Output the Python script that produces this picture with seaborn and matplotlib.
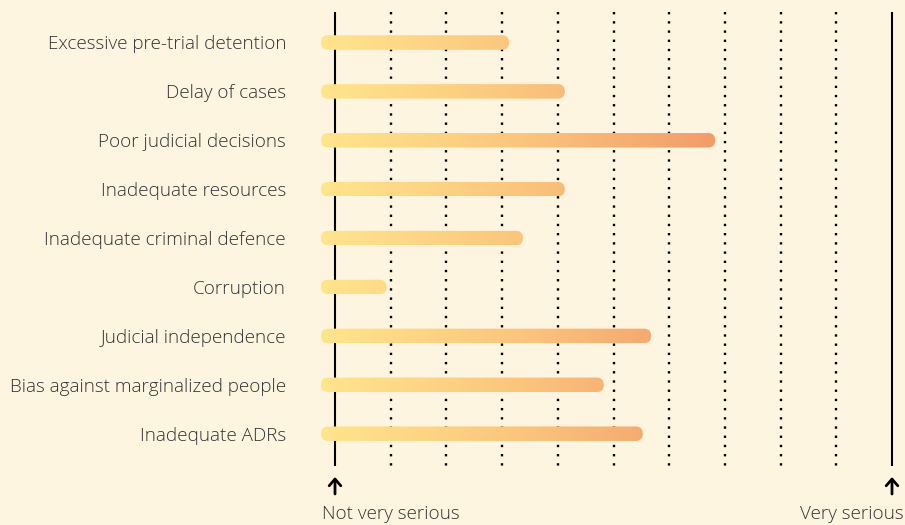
import numpy as np
import matplotlib
matplotlib.use("Agg")
import matplotlib.pyplot as plt
import seaborn as sns
import pandas as pd
from matplotlib.patches import FancyBboxPatch
from matplotlib.colors import LinearSegmentedColormap

# Perceived seriousness of problems in the justice system (0 = not very serious, 10 = very serious)
categories = [
    "Excessive pre-trial detention",
    "Delay of cases",
    "Poor judicial decisions",
    "Inadequate resources",
    "Inadequate criminal defence",
    "Corruption",
    "Judicial independence",
    "Bias against marginalized people",
    "Inadequate ADRs",
]
scores = [3.0, 4.0, 6.7, 4.0, 3.25, 0.8, 5.55, 4.7, 5.4]
scale_ticks = list(range(11))
end_labels = ["Not very serious", "Very serious"]

sns.set_theme(style="white")
plt.rcParams["font.family"] = ["Open Sans", "DejaVu Sans"]

BG = "#FEF5E0"
TEXT = "#333333"
FS = 13.6
W, H = 905, 525
PX_X = 55.7      # pixels per scale unit
PX_Y = 48.9      # pixels per category row
X0_PX, Y0_PX = 335, 42.5
AX_LEFT = 300


def ypos(px):
    return (px - Y0_PX) / PX_Y


fig = plt.figure(figsize=(W / 100, H / 100), dpi=100, facecolor=BG)
ax = fig.add_axes([AX_LEFT / W, 0, (W - AX_LEFT) / W, 1])
ax.set_facecolor(BG)

df = pd.DataFrame({"issue": categories, "score": scores})
bar_h = 14.5 / PX_Y
sns.barplot(data=df, x="score", y="issue", orient="h", width=bar_h,
            color="#FBC57E", ax=ax)

xlim = ((AX_LEFT - X0_PX) / PX_X, (W - X0_PX) / PX_X)
ylim = (ypos(H), ypos(0))

# scale lines: solid at both ends, dotted in between
y_top, y_bot = ypos(12), ypos(466)
for t in scale_ticks:
    if t in (scale_ticks[0], scale_ticks[-1]):
        ax.plot([t, t], [y_top, y_bot], color="black", lw=1.5,
                solid_capstyle="butt", zorder=1)
    else:
        ax.plot([t, t], [y_top, y_bot], color="black", lw=1.7,
                ls=(0, (1, 2.9)), dash_capstyle="butt", zorder=1)

# rounded gradient bars built on the seaborn bar geometry
cmap = LinearSegmentedColormap.from_list("warm", ["#FFE58C", "#FBC57C", "#F29A68"])
grad = np.linspace(0, 1, 256).reshape(1, -1)
cap_r = 7 / PX_X
grad_span = (-0.25, 7.0)
for p in list(ax.patches):
    y0, h, w = p.get_y(), p.get_height(), p.get_width()
    p.set_visible(False)
    shape = FancyBboxPatch((-2 * cap_r, y0), w + 3 * cap_r, h,
                           boxstyle=f"round,pad=0,rounding_size={cap_r}",
                           mutation_aspect=h / (2 * cap_r),
                           facecolor="none", edgecolor="none", zorder=3)
    ax.add_patch(shape)
    im = ax.imshow(grad, extent=(grad_span[0], grad_span[1], y0 + h, y0),
                   cmap=cmap, aspect="auto", interpolation="bilinear", zorder=3)
    im.set_clip_path(shape)

# arrows and end labels
for t in (scale_ticks[0], scale_ticks[-1]):
    ax.annotate("", xy=(t, ypos(477)), xytext=(t, ypos(494)),
                arrowprops=dict(arrowstyle="->,head_width=0.35,head_length=0.4",
                                lw=2, color="black", shrinkA=0, shrinkB=0))
ax.text((322 - X0_PX) / PX_X, ypos(514), end_labels[0], ha="left", va="center",
        fontsize=FS, color=TEXT, fontweight="light")
ax.text((904 - X0_PX) / PX_X, ypos(514), end_labels[1], ha="right", va="center",
        fontsize=FS, color=TEXT, fontweight="light")

ax.set_xlim(*xlim)
ax.set_ylim(*ylim)
ax.set_xticks([])
ax.set_xlabel("")
ax.set_ylabel("")
ax.tick_params(axis="y", length=0, pad=10, labelsize=FS, labelcolor=TEXT)
for lab in ax.get_yticklabels():
    lab.set_fontweight("light")
for s in ax.spines.values():
    s.set_visible(False)

fig.savefig("out.png", dpi=100, facecolor=BG)
